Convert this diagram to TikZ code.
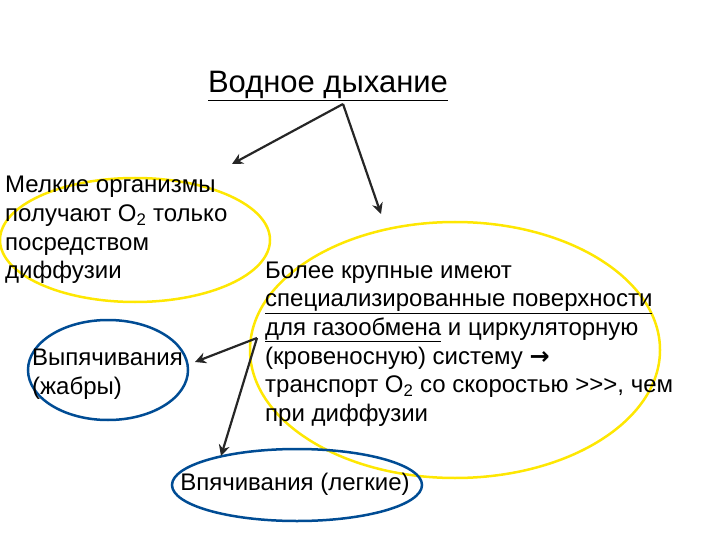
\documentclass[tikz,border=0pt]{standalone}
\usepackage{fontspec}
\setmainfont{Liberation Sans}
\newfontfamily\symfont{DejaVu Sans}
\usetikzlibrary{arrows.meta}
\begin{document}
\begin{tikzpicture}[x=1pt,y=-1pt,
  yell/.style={draw=yellow!90!orange,line width=2.5pt},
  blu/.style={draw=blue!40!black!70!cyan,line width=2.5pt},
  arr/.style={draw=black!85,line width=2.2pt,-{Stealth[length=11pt,width=11pt]}},
  txt/.style={font=\fontsize{24}{28.6}\selectfont,align=left,inner sep=0pt,anchor=west}]
\useasboundingbox (0,0) rectangle (720,540);
\node[font=\fontsize{31}{34}\selectfont,inner sep=0pt] (title) at (328,86) {\underline{Водное дыхание}};
\draw[yell] (135,240) ellipse [x radius=135,y radius=62];
\draw[yell] (455,350) ellipse [x radius=205,y radius=128];
\draw[blu] (108,370) ellipse [x radius=80,y radius=50];
\draw[blu] (297,485) ellipse [x radius=125,y radius=36];
\node[txt] (small) at (5,230) {Мелкие организмы\\получают O\textsubscript{2} только\\посредством\\диффузии};
\node[txt] (big) at (265,344) {Более крупные имеют\\\underline{специализированные поверхности}\\\underline{для газообмена} и циркуляторную\\(кровеносную) систему {\symfont\bfseries →}\\транспорт O\textsubscript{2} со скоростью {>}{>}{>}, чем\\при диффузии};
\node[txt] (gill) at (32,374) {Выпячивания\\(жабры)};
\node[txt,anchor=center] (lung) at (295,484) {Впячивания (легкие)};
\coordinate (s1) at (343,104);
\coordinate (s2) at (257,338);
\coordinate (e1) at (232,164);
\coordinate (e2) at (381,214);
\coordinate (e3) at (195,362);
\coordinate (e4) at (221,456);
\draw[arr] (s1) -- (e1);
\draw[arr] (s1) -- (e2);
\draw[arr] (s2) -- (e3);
\draw[arr] (s2) -- (e4);
\end{tikzpicture}
\end{document}
